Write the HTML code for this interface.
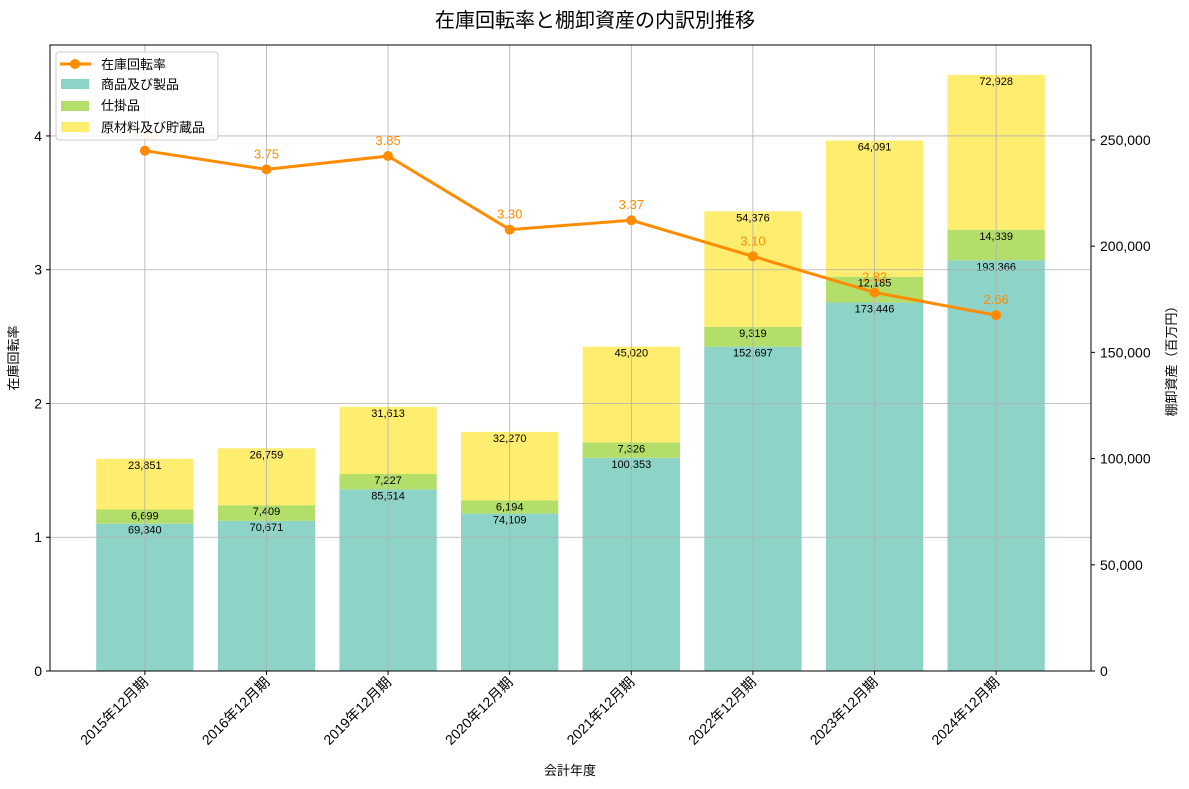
<!DOCTYPE html>
<html><head><meta charset="utf-8">
<style>
body{margin:0;background:#fff;}
svg{display:block;font-family:"Liberation Sans","Noto Sans CJK JP",sans-serif;}
</style></head>
<body>
<svg id="chart" width="1189" height="789" viewBox="0 0 1189 789" xmlns="http://www.w3.org/2000/svg">
<text x="595" y="27" font-size="20" text-anchor="middle" fill="#000">在庫回転率と棚卸資産の内訳別推移</text>
<g id="bars"></g>
<g id="grid"></g>
<g id="line"></g>
<g id="axes"></g>
<text x="570" y="775" font-size="13" text-anchor="middle">会計年度</text>
<text transform="translate(18,358) rotate(-90)" font-size="13" text-anchor="middle">在庫回転率</text>
<text transform="translate(1176,358) rotate(-90)" font-size="13" text-anchor="middle">棚卸資産（百万円）</text>
<g>
<rect x="56" y="52" width="162" height="88" fill="#fff" fill-opacity="0.85" stroke="#ccc" rx="3"/>
<line x1="60" y1="64" x2="91" y2="64" stroke="#ff8c00" stroke-width="3"/>
<circle cx="75" cy="64" r="5" fill="#ff8c00"/>
<text x="101" y="69" font-size="13">在庫回転率</text>
<rect x="61" y="79" width="28" height="10" fill="#8dd3c7"/>
<text x="101" y="89" font-size="13">商品及び製品</text>
<rect x="61" y="101" width="28" height="10" fill="#b3de69"/>
<text x="101" y="110" font-size="13">仕掛品</text>
<rect x="61" y="122" width="28" height="10" fill="#ffed6f"/>
<text x="101" y="132" font-size="13">原材料及び貯蔵品</text>
</g>
</svg>
<script>
const categories=["2015年12月期","2016年12月期","2019年12月期","2020年12月期","2021年12月期","2022年12月期","2023年12月期","2024年12月期"];
const finished=[69340,70671,85514,74109,100353,152697,173446,193366];
const wip=[6699,7409,7227,6194,7326,9319,12185,14339];
const materials=[23851,26759,31613,32270,45020,54376,64091,72928];
const turnover=[3.89,3.75,3.85,3.30,3.37,3.10,2.83,2.66];
const leftTicks=[0,1,2,3,4];
const rightTicks=[0,50000,100000,150000,200000,250000];

const NS="http://www.w3.org/2000/svg";
const L=50,R=1091,T=45,B=671;
const xmin=-0.78,xmax=7.78;
const X=i=>L+(i-xmin)/(xmax-xmin)*(R-L);
const YL=v=>B-v/4.68*(B-T);
const YR=v=>B-v/294700*(B-T);
const bw=0.8*(R-L)/(xmax-xmin);
function mk(tag,attrs,parent,text){const e=document.createElementNS(NS,tag);for(const k in attrs)e.setAttribute(k,attrs[k]);if(text!==undefined)e.textContent=text;parent.appendChild(e);return e;}
const fmt=v=>v.toLocaleString("en-US");
const gb=document.getElementById("bars"),gg=document.getElementById("grid"),gl=document.getElementById("line"),ga=document.getElementById("axes");
const series=[[finished,"#8dd3c7","finished"],[wip,"#b3de69","wip"],[materials,"#ffed6f","materials"]];
categories.forEach((c,i)=>{
  let base=0;
  series.forEach(([arr,col,nm])=>{
    const top=base+arr[i];
    const r=mk("rect",{x:X(i)-bw/2,y:YR(top),width:bw,height:YR(base)-YR(top),fill:col},gb);
    
    
    const t=mk("text",{x:X(i),y:YR(top)+10,"font-size":11,"text-anchor":"middle",fill:"#000"},gb,fmt(arr[i]));
    
    
    base=top;
  });
});
categories.forEach((c,i)=>{
  const g=mk("line",{x1:X(i),x2:X(i),y1:T,y2:B,stroke:"#b0b0b0","stroke-width":0.8},gg);
  
  
});
leftTicks.forEach(v=>{
  const g=mk("line",{x1:L,x2:R,y1:YL(v),y2:YL(v),stroke:"#b0b0b0","stroke-width":0.8},gg);
  
  
});
const pts=turnover.map((v,i)=>X(i)+","+YL(v)).join(" ");
const pl=mk("polyline",{points:pts,fill:"none",stroke:"#ff8c00","stroke-width":3},gl);


turnover.forEach((v,i)=>{
  const p=mk("circle",{cx:X(i),cy:YL(v),r:5,fill:"#ff8c00"},gl);
  
  
  const t=mk("text",{x:X(i),y:YL(v)-11,"font-size":13,"text-anchor":"middle",fill:"#ff8c00"},gl,v.toFixed(2));
  
  
});
const fr=mk("rect",{x:L,y:T,width:R-L,height:B-T,fill:"none",stroke:"#000","stroke-width":1},ga);


leftTicks.forEach(v=>{
  mk("line",{x1:L-4,x2:L,y1:YL(v),y2:YL(v),stroke:"#000"},ga);
  const t=mk("text",{x:L-8,y:YL(v)+5,"font-size":14,"text-anchor":"end"},ga,String(v));
  
  
});
rightTicks.forEach(v=>{
  mk("line",{x1:R,x2:R+4,y1:YR(v),y2:YR(v),stroke:"#000"},ga);
  const t=mk("text",{x:R+9,y:YR(v)+5,"font-size":14,"text-anchor":"start"},ga,fmt(v));
  
  
});
categories.forEach((c,i)=>{
  mk("line",{x1:X(i),x2:X(i),y1:B,y2:B+4,stroke:"#000"},ga);
  const t=mk("text",{transform:`translate(${X(i)+4},${B+12}) rotate(-45)`,"font-size":14,"text-anchor":"end"},ga,c);
  
  
});
</script>
</body></html>
